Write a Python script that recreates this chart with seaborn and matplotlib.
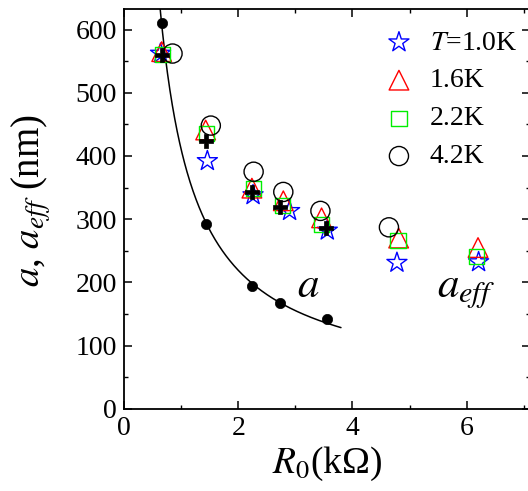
import numpy as np
import pandas as pd
import matplotlib
matplotlib.use("Agg")
import matplotlib.pyplot as plt
from matplotlib.ticker import MultipleLocator
import seaborn as sns

# Localization radius a (filled circles) and fitted curve
R_a = [0.66, 1.43, 2.24, 2.74, 3.55]
a_vals = [610, 292, 194, 167, 142]

# Effective radius a_eff at several temperatures
R_10 = [0.64, 1.46, 2.26, 2.90, 3.56, 4.78, 6.21]
aeff_10 = [562, 392, 338, 313, 282, 231, 232]
R_16 = [0.66, 1.43, 2.24, 2.79, 3.46, 4.81, 6.20]
aeff_16 = [565, 441, 349, 329, 302, 270, 255]
R_22 = [0.68, 1.45, 2.27, 2.77, 3.46, 4.80, 6.17]
aeff_22 = [560, 436, 348, 322, 292, 266, 241]
R_42 = [0.85, 1.52, 2.27, 2.79, 3.44, 4.64]
aeff_42 = [562, 448, 375, 343, 313, 287]

# Extrapolated a_eff (black crosses)
R_ext = [0.66, 1.43, 2.24, 2.73, 3.54]
aeff_ext = [560, 423, 343, 319, 286]

temp_labels = ["$T$=1.0K", "1.6K", "2.2K", "4.2K"]
x_ticks = [0, 2, 4, 6]
y_ticks = [0, 100, 200, 300, 400, 500, 600]

sns.set_style("ticks")
plt.rcParams.update({
    "font.family": ["Liberation Serif", "DejaVu Serif"],
    "mathtext.fontset": "stix",
    "text.color": "black",
    "axes.labelcolor": "black",
    "xtick.color": "black",
    "ytick.color": "black",
    "xtick.direction": "in",
    "ytick.direction": "in",
    "xtick.top": True,
    "ytick.right": True,
    "xtick.major.size": 5.5,
    "ytick.major.size": 5.5,
    "xtick.minor.size": 3,
    "ytick.minor.size": 3,
    "xtick.major.width": 1.1,
    "ytick.major.width": 1.1,
    "xtick.minor.width": 1.0,
    "ytick.minor.width": 1.0,
    "xtick.major.pad": 5,
    "ytick.major.pad": 5,
    "axes.linewidth": 1.3,
    "axes.edgecolor": "black",
})

fig = plt.figure(figsize=(5.28, 4.91), dpi=100)
ax = fig.add_axes([124 / 528, 82.3 / 491, 406 / 528, 399.4 / 491])

# Fit a = c0 + c1 / R to the localization radius
c1, c0 = np.polyfit(1.0 / np.array(R_a), np.array(a_vals), 1)
R_fit = np.linspace(0.6, 3.8, 300)
fit_df = pd.DataFrame({"R": R_fit, "a": c0 + c1 / R_fit})
sns.lineplot(data=fit_df, x="R", y="a", color="black", lw=1.1, ax=ax,
             zorder=2, legend=False)
sns.scatterplot(x=R_a, y=a_vals, marker="o", s=55, color="black",
                edgecolor="black", linewidth=0.5, ax=ax, zorder=3)

series = [
    (R_10, aeff_10, "*", 230, "blue", temp_labels[0]),
    (R_16, aeff_16, "^", 200, "red", temp_labels[1]),
    (R_22, aeff_22, "s", 120, "#00ee00", temp_labels[2]),
    (R_42, aeff_42, "o", 190, "black", temp_labels[3]),
]
for xs, ys, mk, size, col, lab in series:
    sns.scatterplot(x=xs, y=ys, marker=mk, s=size, facecolors="none",
                    edgecolor=col, linewidth=1.0, label=lab, ax=ax, zorder=4)

sns.scatterplot(x=R_ext, y=aeff_ext, marker="P", s=110, color="black",
                edgecolor="black", linewidth=0.5, ax=ax, zorder=5)

ax.set_xlim(0, 406 / 57.1)
ax.set_ylim(0, 632)
ax.set_xticks(x_ticks)
ax.set_yticks(y_ticks)
ax.xaxis.set_minor_locator(MultipleLocator(1))
ax.yaxis.set_minor_locator(MultipleLocator(50))
ax.tick_params(labelsize=20)
for sp in ax.spines.values():
    sp.set_visible(True)

ax.set_xlabel("$R_0$(kΩ)", fontsize=27, labelpad=3)
ax.set_ylabel("$a$, $a_{eff}$ (nm)", fontsize=28)
ax.yaxis.set_label_coords(-0.175, 0.52)

ax.text(3.22, 176, "$a$", fontsize=31, ha="center", va="baseline")
ax.text(5.49, 176, "$a_{eff}$", fontsize=31, ha="left", va="baseline")

ax.legend(loc="upper left", bbox_to_anchor=(0.643, 0.948), frameon=False,
          fontsize=20, handlelength=1.0, handletextpad=0.6,
          labelspacing=0.45, borderpad=0, borderaxespad=0, scatterpoints=1)

fig.savefig("out.png", dpi=100)
